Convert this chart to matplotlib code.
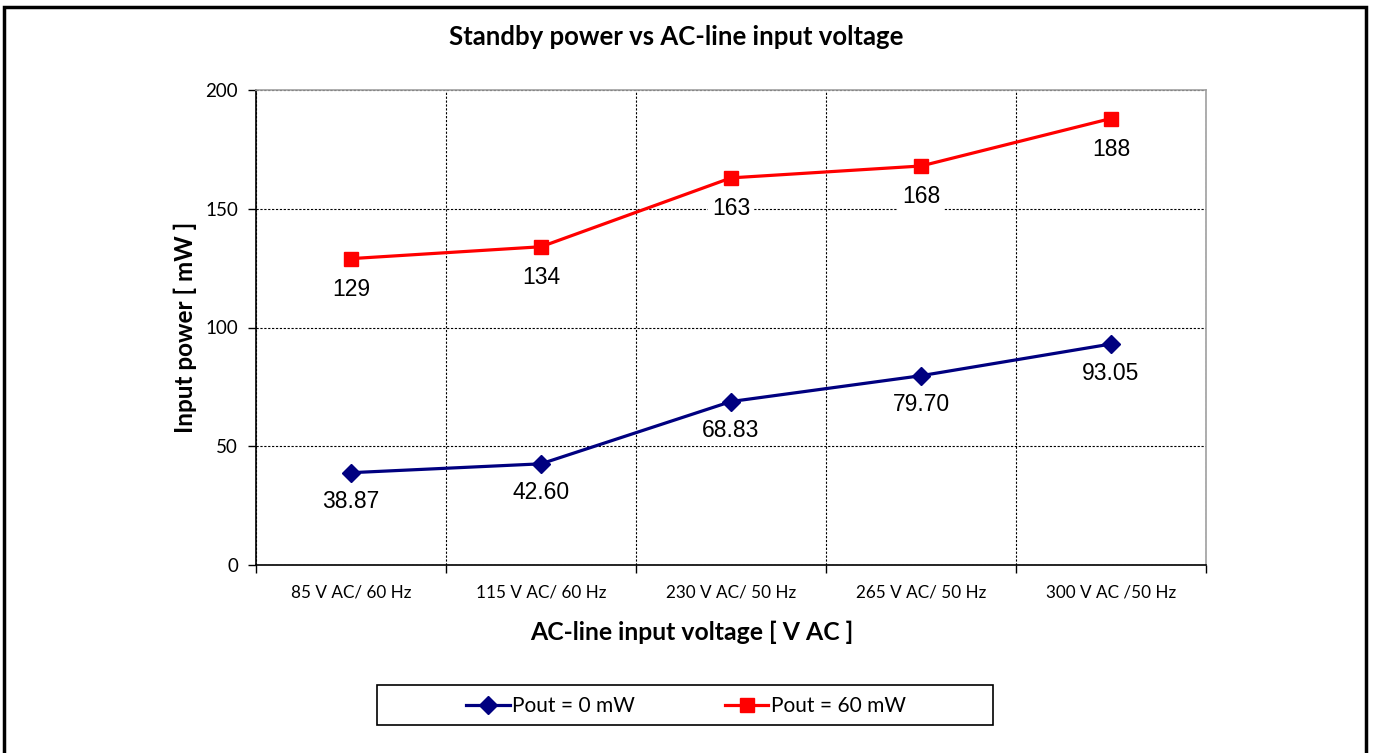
import matplotlib
matplotlib.use("Agg")
import matplotlib.pyplot as plt
from matplotlib.patches import Rectangle

# data
voltages = ["85 V AC/ 60 Hz", "115 V AC/ 60 Hz", "230 V AC/ 50 Hz",
            "265 V AC/ 50 Hz", "300 V AC /50 Hz"]
pout_0mw = [38.87, 42.60, 68.83, 79.70, 93.05]
pout_60mw = [129, 134, 163, 168, 188]
labels_0mw = ["38.87", "42.60", "68.83", "79.70", "93.05"]
labels_60mw = ["129", "134", "163", "168", "188"]

ui_font = ["Lato", "DejaVu Sans"]
num_font = ["Liberation Sans", "DejaVu Sans"]

fig = plt.figure(figsize=(13.73, 7.53), dpi=100)
ax = fig.add_axes([256/1373, 1-565/753, 950/1373, 475/753])

x = list(range(len(voltages)))
ax.plot(x, pout_0mw, color="#000080", lw=2.3, marker="D", markersize=9,
        label="Pout = 0 mW", zorder=4)
ax.plot(x, pout_60mw, color="#FF0000", lw=2.3, marker="s", markersize=10.5,
        label="Pout = 60 mW", zorder=4)

for xi, yi, t in zip(x, pout_0mw, labels_0mw):
    ax.annotate(t, (xi, yi), xytext=(0, -21), textcoords="offset points",
                ha="center", va="center", fontsize=16.5, family=num_font,
                bbox=dict(boxstyle="square,pad=0.15", fc="white", ec="none"), zorder=5)
for xi, yi, t in zip(x, pout_60mw, labels_60mw):
    ax.annotate(t, (xi, yi), xytext=(0, -22), textcoords="offset points",
                ha="center", va="center", fontsize=16.5, family=num_font,
                bbox=dict(boxstyle="square,pad=0.15", fc="white", ec="none"), zorder=5)

ax.set_xlim(-0.5, len(voltages) - 0.5)
ax.set_ylim(0, 200)
ax.set_yticks([0, 50, 100, 150, 200])
ax.set_xticks([i - 0.5 for i in range(len(voltages) + 1)])
ax.set_xticklabels([])
ax.set_xticks(x, minor=True)
ax.set_xticklabels(voltages, minor=True, family=ui_font, fontsize=12.3)
ax.tick_params(axis="x", which="major", direction="out", length=6, width=1)
ax.tick_params(axis="x", which="minor", length=0, pad=14)
ax.tick_params(axis="y", direction="out", length=6, width=1, labelsize=13.5, pad=7)
for lb in ax.get_yticklabels():
    lb.set_family(ui_font)

ax.grid(True, which="major", color="black", linestyle=(0, (2, 1.5)), lw=0.8)
ax.set_axisbelow(True)
for s in ["top", "right"]:
    ax.spines[s].set_color("#A0A0A0")
    ax.spines[s].set_linewidth(1.2)
for s in ["left", "bottom"]:
    ax.spines[s].set_color("black")
    ax.spines[s].set_linewidth(1.2)

ax.set_ylabel("Input power [ mW ]", family=ui_font, fontsize=17.5,
              fontweight="bold", labelpad=6)
ax.set_xlabel("AC-line input voltage [ V AC ]", family=ui_font, fontsize=17.8,
              fontweight="bold")
ax.xaxis.set_label_coords((692-256)/950, -(621-565)/475)
fig.text(676/1373, 1-37/753, "Standby power vs AC-line input voltage",
         family=ui_font, fontsize=18.5, fontweight="bold", ha="center", va="center")

# legend: frame drawn separately, entries centred inside it
fig.patches.append(Rectangle((377/1373, 1-725/753), 616/1373, 40/753,
                             transform=fig.transFigure, fill=False,
                             ec="black", lw=1.2))
fig.legend(loc="center", ncol=2, bbox_to_anchor=(686/1373, 1-706/753),
           prop={"family": ui_font, "size": 15}, frameon=False,
           handlelength=2.1, handletextpad=0.1, columnspacing=4.3)

fig.patches.append(Rectangle((4/1373, -0.01), 1362/1373, 1.01 - 7/753,
                             transform=fig.transFigure, fill=False,
                             ec="black", lw=2.5))

fig.savefig("out.png", dpi=100)
